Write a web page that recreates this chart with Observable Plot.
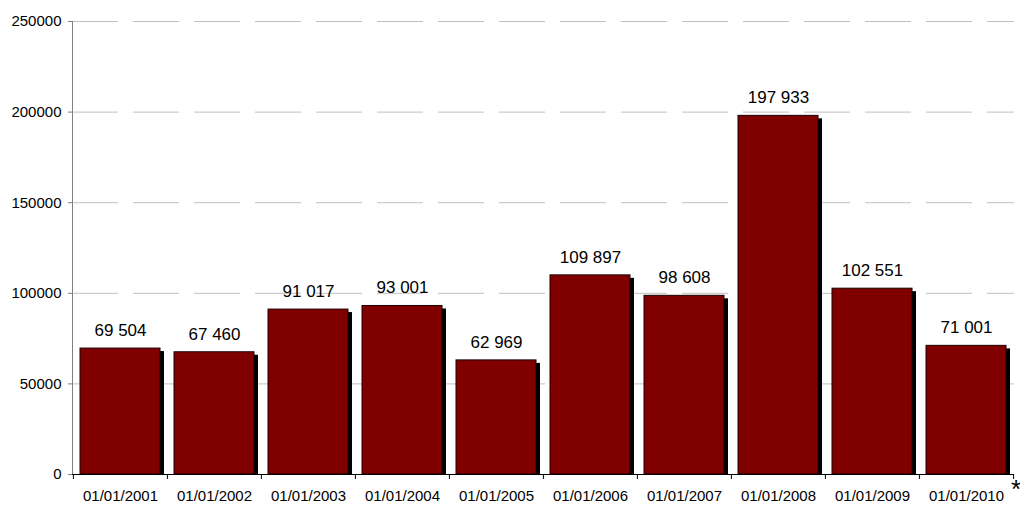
<!DOCTYPE html>
<html>
<head>
<meta charset="utf-8">
<script src="https://cdn.jsdelivr.net/npm/d3@7"></script>
<script src="https://cdn.jsdelivr.net/npm/@observablehq/plot@0.6"></script>
<style>
  html, body { margin: 0; padding: 0; background: #fff; }
  #chart svg { display: block; overflow: visible; }
</style>
</head>
<body>
<div id="chart"></div>
<script>
const categories = ["01/01/2001","01/01/2002","01/01/2003","01/01/2004","01/01/2005","01/01/2006","01/01/2007","01/01/2008","01/01/2009","01/01/2010"];
const values = [69504, 67460, 91017, 93001, 62969, 109897, 98608, 197933, 102551, 71001];
const yTicks = [0, 50000, 100000, 150000, 200000, 250000];
const footnote = ["*"];

const data = categories.map((c, i) => ({cat: c, value: values[i]}));

const W = 1020, H = 505, ML = 72, MR = 6, MT = 21, MB = 31;
const step = (W - ML - MR) / categories.length;
const fmt = v => d3.format(",")(v).replace(/,/g, " ");

const chart = Plot.plot({
  width: W,
  height: H,
  marginLeft: ML,
  marginRight: MR,
  marginTop: MT,
  marginBottom: MB,
  style: {fontFamily: "'Liberation Sans', Arial, sans-serif", fontSize: "15px", color: "#000", background: "#fff"},
  x: {domain: categories, paddingInner: 0.15, paddingOuter: 0.075, label: null},
  y: {domain: [0, 250000], label: null},
  marks: [
    Plot.gridY(yTicks.filter(d => d > 0), {stroke: "#c0c0c0", strokeOpacity: 1, strokeDasharray: "46,15"}),
    Plot.barY(data, {x: "cat", y: "value", fill: "#000", dx: 4, insetTop: 3}),
    Plot.barY(data, {x: "cat", y: "value", fill: "#800000", stroke: "#1a0000", strokeWidth: 1}),
    Plot.text(data, {x: "cat", y: "value", text: d => fmt(d.value), dy: -18, fontSize: 17, fill: "#000"}),
    Plot.frame({anchor: "left", stroke: "#808080"}),
    Plot.axisY({ticks: yTicks, tickFormat: d => String(d), tickSize: 4, tickPadding: 7, stroke: "#808080", fontSize: 15, fill: "#000"}),
    Plot.ruleY([0], {stroke: "#000"}),
    Plot.axisX({tickSize: 0, tickPadding: 16, fontSize: 15, fill: "#000"}),
    Plot.axisX({tickSize: 5, tickFormat: () => "", dx: -step / 2, stroke: "#000"}),
    Plot.axisX({ticks: [categories[categories.length - 1]], tickSize: 5, tickFormat: () => "", dx: step / 2, stroke: "#000"}),
    Plot.text(footnote, {frameAnchor: "bottom-right", text: d => d, dx: 1.5, dy: 23, fontSize: 26, textAnchor: "middle", fill: "#000"})
  ]
});
document.getElementById("chart").appendChild(chart);
</script>
</body>
</html>
